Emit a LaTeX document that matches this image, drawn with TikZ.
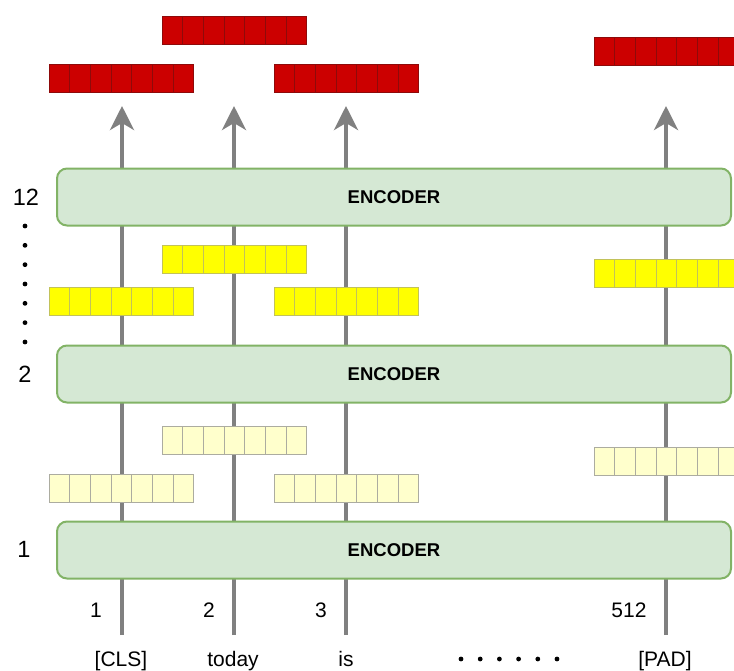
\documentclass[tikz,border=0pt]{standalone}
\usepackage{fontspec}
\setmainfont{Liberation Sans}
\usetikzlibrary{arrows.meta}
\definecolor{encfill}{HTML}{D5E8D4}
\definecolor{encline}{HTML}{82B366}
\definecolor{flowgray}{HTML}{808080}
\definecolor{vecred}{HTML}{CC0000}
\definecolor{vecredline}{HTML}{8E0A0A}
\definecolor{vecyellow}{HTML}{FFFF00}
\definecolor{vecyellowline}{HTML}{C2C25A}
\definecolor{veclight}{HTML}{FFFFCC}
\definecolor{veclightline}{HTML}{ACACA0}
\begin{document}
\begin{tikzpicture}[x=1pt,y=-1pt]
  \tikzset{
    encoder/.style={draw=encline, fill=encfill, line width=2pt, rounded corners=10pt,
      minimum width=674pt, minimum height=57pt, inner sep=0pt,
      font=\fontsize{18.5}{20}\selectfont\bfseries},
    flow/.style={draw=flowgray, line width=4pt, -{Stealth[length=24pt,width=24pt,inset=7pt]}},
    cell/.style={line width=1pt},
    token/.style={anchor=base, font=\fontsize{21}{24}\selectfont},
    layer/.style={anchor=base, font=\fontsize{23.5}{26}\selectfont}
  }
  \useasboundingbox (0,0) rectangle (734,670);
  \clip (0,0) rectangle (734,670);

  % tokens and positions
  \node[token] (cls)   at (121,666) {[CLS]};
  \node[token] (today) at (233,666) {today};
  \node[token] (is)    at (346,666) {is};
  \node[token] (pad)   at (665,666) {[PAD]};
  \node[token] (p1)    at (96,617)  {1};
  \node[token] (p2)    at (209,617) {2};
  \node[token] (p3)    at (321,617) {3};
  \node[token] (p512)  at (629,617) {512};
  \foreach \i in {0,...,5}
    \fill (461+\i*19.2,659) circle (2.4pt);

  % token streams
  \foreach \n/\x in {1/122,2/234,3/346,4/666} {
    \coordinate (in\n) at (\x,635);
    \coordinate (out\n) at (\x,106);
    \draw[flow] (in\n) -- (out\n);
  }

  % encoder stack
  \node[encoder] (enc1)  at (394,550) {ENCODER};
  \node[encoder] (enc2)  at (394,374) {ENCODER};
  \node[encoder] (enc12) at (394,197) {ENCODER};
  \node[layer] (l1)  at (24,557) {1};
  \node[layer] (l2)  at (25,382) {2};
  \node[layer] (l12) at (26,205) {12};
  \foreach \i in {0,...,6}
    \fill (25,226+\i*19.33) circle (2.4pt);

  % hidden vectors
  \foreach \x/\y/\c/\b in {49/474/veclight/veclightline, 162/426/veclight/veclightline,
      274/474/veclight/veclightline, 594/447/veclight/veclightline,
      49/287/vecyellow/vecyellowline, 162/245/vecyellow/vecyellowline,
      274/287/vecyellow/vecyellowline, 594/259/vecyellow/vecyellowline,
      49/64/vecred/vecredline, 162/16/vecred/vecredline,
      274/64/vecred/vecredline, 594/37/vecred/vecredline}
    \foreach \i in {0,...,6}
      \draw[cell, draw=\b, fill=\c] (\x+\i*20.7,\y) rectangle ++(20.7,28);
\end{tikzpicture}
\end{document}
